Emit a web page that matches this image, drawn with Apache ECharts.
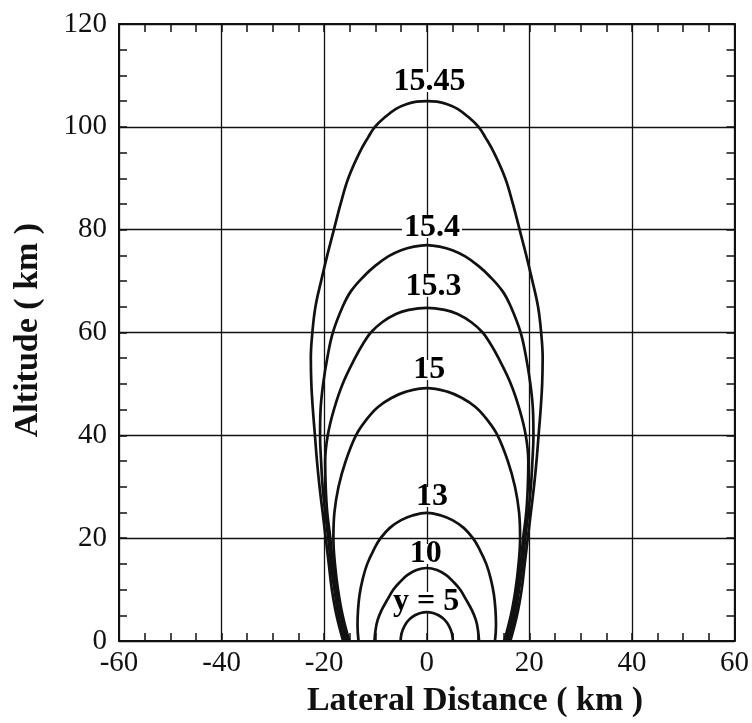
<!DOCTYPE html>
<html><head><meta charset="utf-8">
<script src="https://cdn.jsdelivr.net/npm/echarts@6/dist/echarts.min.js"></script>
<style>html,body{margin:0;padding:0;background:#fff}#c{width:752px;height:723px}</style>
</head><body><div id="c"></div>
<script>
// Axis ranges / ticks
const xMin = -60, xMax = 60, xStep = 20;
const yMin = 0, yMax = 120, yStep = 20;

// Contour levels
const contourLevels = ['5', '10', '13', '15', '15.3', '15.4', '15.45'];

// Right-half profiles of each contour: [lateral distance km, altitude km], from base to apex
const half5 = [[5.1,0],[4.9,1.5],[4.3,3],[3.4,4.2],[2.3,5.0],[1.2,5.45],[0,5.6]];
const half10 = [[10.2,0],[10.0,2],[9.6,4],[8.8,6],[7.7,8],[6.5,10],[5.2,11.5],[3.8,12.8],[2.0,13.8],[0,14.2]];
const half13 = [[13.3,0],[13.5,3],[13.4,6],[13.1,9],[12.5,12],[11.6,15],[10.2,18],[9.0,20],[7.2,22],[5.0,23.5],[2.8,24.4],[0,24.9]];
const half15 = [[15.1,0],[16.4,5],[17.3,10],[17.9,15],[18.2,20],[18.0,25],[17.2,30],[15.8,35],[13.8,40],[11.8,43],[9.5,45.5],[6.8,47.3],[4.0,48.5],[0,49.2]];
const half153 = [[15.5,0],[16.8,5],[17.6,10],[18.3,15],[18.8,20],[19.4,25],[19.7,30],[19.8,35],[19.3,40],[18.1,45],[16.4,50],[14.0,55],[12.3,58],[10.9,60],[8.7,62],[6.0,63.6],[3.5,64.4],[0,64.8]];
const half154 = [[15.9,0],[17.2,5],[18.0,10],[18.7,15],[19.2,20],[19.8,25],[20.3,30],[20.6,35],[20.8,40],[20.7,45],[20.2,50],[19.4,55],[18.3,60],[16.4,65],[14.8,68],[12.2,71],[10.0,73],[7.5,74.8],[5.0,76],[2.5,76.7],[0,77]];
const half1545 = [[16.3,0],[17.6,5],[18.5,10],[19.1,15],[19.7,20],[20.3,25],[20.9,30],[21.4,35],[21.8,40],[22.2,45],[22.5,50],[22.6,55],[22.3,60],[21.7,65],[20.6,70],[19.4,75],[18.1,80],[16.8,85],[15.3,90],[13.1,95],[11.4,98],[10.1,100],[8.0,102],[6.0,103.5],[4.0,104.4],[2.0,104.9],[0,105]];
const halfProfiles = [half5, half10, half13, half15, half153, half154, half1545];

// Contour label texts and anchor positions (data coords)
const labelTexts = ['y = 5', '10', '13', '15', '15.3', '15.4', '15.45'];
const labelX = [-0.1, -0.2, 1.0, 0.5, 1.3, 1.0, 0.55];
const labelY = [7.6, 16.9, 28.0, 52.7, 68.9, 80.3, 108.7];

function fullCurve(half) {
  const left = half.map(p => [-p[0], p[1]]);
  const right = half.slice(0, -1).reverse().map(p => [p[0], p[1]]);
  return left.concat(right);
}

const serif = "'Liberation Serif', 'DejaVu Serif', serif";
const ink = '#111';

const series = halfProfiles.map((h, i) => ({
  name: contourLevels[i],
  type: 'line',
  data: fullCurve(h),
  smooth: 0.4,
  symbol: 'none',
  silent: true,
  lineStyle: { color: ink, width: 2.7 },
  z: 3
}));

series.push({
  type: 'scatter',
  symbolSize: 1,
  silent: true,
  itemStyle: { color: 'rgba(0,0,0,0)', opacity: 1 },
  emphasis: { disabled: true },
  data: labelTexts.map((t, i) => [labelX[i], labelY[i], t]),
  label: {
    show: true,
    position: 'inside',
    formatter: p => p.data[2],
    fontFamily: serif,
    fontWeight: 'bold',
    fontSize: 32,
    lineHeight: 20,
    color: '#000',
    opacity: 1,
    textBorderWidth: 0,
    backgroundColor: '#fff',
    padding: [0, 2]
  },
  z: 2
});

const baseAxis = {
  axisLine: { show: true, onZero: false, lineStyle: { color: ink, width: 2 } },
  axisTick: { show: true, inside: true, length: 8, lineStyle: { color: ink, width: 1.5 } },
  minorTick: { show: true, splitNumber: 4, length: 8, lineStyle: { color: ink, width: 1.5 } }
};

const option = {
  animation: false,
  backgroundColor: '#fff',
  grid: { left: 119, right: 15, top: 24, bottom: 82 },
  xAxis: [
    Object.assign({}, baseAxis, {
      type: 'value', min: xMin, max: xMax, interval: xStep, position: 'bottom',
      axisLabel: { fontFamily: serif, fontSize: 29, color: ink, margin: 8 },
      splitLine: { show: true, lineStyle: { color: ink, width: 1.3 } }
    }),
    Object.assign({}, baseAxis, {
      type: 'value', min: xMin, max: xMax, interval: xStep, position: 'top',
      axisLabel: { show: false }, splitLine: { show: false }
    })
  ],
  yAxis: [
    Object.assign({}, baseAxis, {
      type: 'value', min: yMin, max: yMax, interval: yStep, position: 'left',
      axisLabel: { fontFamily: serif, fontSize: 29, color: ink, margin: 12 },
      splitLine: { show: true, lineStyle: { color: ink, width: 1.3 } }
    }),
    Object.assign({}, baseAxis, {
      type: 'value', min: yMin, max: yMax, interval: yStep, position: 'right',
      axisLabel: { show: false }, splitLine: { show: false }
    })
  ],
  graphic: [
    {
      type: 'text', x: 475, y: 701,
      style: { text: 'Lateral Distance ( km )', font: "bold 34px " + serif, fill: ink, textAlign: 'center', textVerticalAlign: 'middle' }
    },
    {
      type: 'text', x: 28, y: 330, rotation: Math.PI / 2,
      style: { text: 'Altitude ( km )', font: "bold 34px " + serif, fill: ink, textAlign: 'center', textVerticalAlign: 'middle' }
    }
  ],
  series: series
};

const chart = echarts.init(document.getElementById('c'), null, { renderer: 'canvas' });
chart.setOption(option);
</script>
</body></html>
